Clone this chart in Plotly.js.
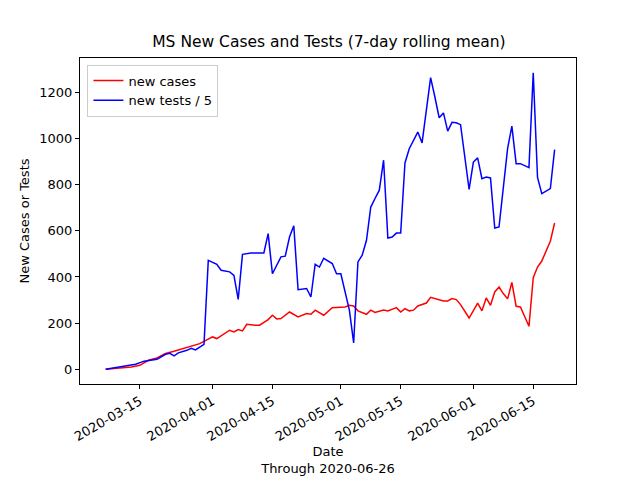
<!DOCTYPE html>
<html>
<head>
<meta charset="utf-8">
<script src="https://cdn.plot.ly/plotly-3.0.1.min.js"></script>
<style>body{margin:0}#chart{width:640px;height:480px}</style>
</head>
<body>
<div id="chart"></div>
<script>
// day offsets are counted from START_DATE
const START_DATE = '2020-03-07';

const casesDays = [0,6,8,10,12,14,16,18,20,22,23,25,26,28,29,30,31,32,33,35,36,38,39,40,41,43,45,47,48,49,51,53,56,57,58,59,61,62,63,65,66,68,69,70,71,72,73,75,76,79,80,81,82,83,85,87,88,89,90,91,92,93,94,95,96,97,99,100,101,102,103,104,105];
const casesValues = [0,10,17,39,49,68,78,90,100,111,121,140,133,157,169,162,172,166,195,191,191,215,234,218,220,248,227,241,238,256,234,267,270,277,274,253,238,256,246,257,253,267,248,263,253,256,274,287,312,296,296,306,302,280,222,287,253,309,277,335,356,328,305,376,273,270,186,397,443,469,513,555,634];

const testsDays = [0,4,7,9,12,14,15,16,17,19,20,21,23,24,26,27,29,30,31,32,34,37,38,39,41,42,43,44,45,47,48,49,50,51,53,54,55,57,58,59,60,61,62,63,64,65,66,67,68,69,70,71,72,73,74,75,76,77,78,79,80,81,82,83,84,85,86,87,88,89,90,91,92,93,94,95,96,97,98,99,100,101,102,103,104,105];
const testsValues = [0,13,22,35,43,65,69,58,71,82,91,84,108,472,455,429,422,407,303,498,504,504,588,414,487,490,573,622,345,350,313,455,443,481,458,414,414,256,114,465,494,559,703,740,776,906,569,573,590,590,894,956,992,1028,981,1136,1264,1180,1090,1111,1032,1070,1068,1060,919,780,898,916,826,833,829,612,617,797,956,1054,891,891,884,874,1285,831,761,771,783,952];

const tickDates = ['2020-03-15','2020-04-01','2020-04-15','2020-05-01','2020-05-15','2020-06-01','2020-06-15'];

const toDate = (offset) => {
  const d = new Date(START_DATE + 'T00:00:00Z');
  d.setUTCDate(d.getUTCDate() + offset);
  return d.toISOString().slice(0, 10);
};

const font = { family: 'DejaVu Sans', size: 13, color: '#000' };

const data = [
  { type: 'scatter', mode: 'lines', name: 'new cases', x: casesDays.map(toDate), y: casesValues, line: { color: '#ff0000', width: 1.5 } },
  { type: 'scatter', mode: 'lines', name: 'new tests / 5', x: testsDays.map(toDate), y: testsValues, line: { color: '#0000ff', width: 1.5 } }
];

const layout = {
  width: 640,
  height: 480,
  font,
  paper_bgcolor: '#fff',
  plot_bgcolor: '#fff',
  margin: { l: 80, r: 64, t: 58, b: 96 },
  title: { text: 'MS New Cases and Tests (7-day rolling mean)', font: { family: 'DejaVu Sans', size: 15.5 }, x: 0.514, y: 0.925, xanchor: 'center' },
  xaxis: {
    type: 'date',
    range: [toDate(-5.25), toDate(110.25)],
    tickvals: tickDates,
    ticktext: tickDates,
    tickangle: -30,
    ticks: 'outside', ticklen: 4, tickcolor: '#000',
    showline: true, linecolor: '#000', mirror: true,
    showgrid: false, zeroline: false,
    title: { text: 'Date<br>Through 2020-06-26', font, standoff: 2 }
  },
  yaxis: {
    range: [-64, 1349],
    tickvals: [0, 200, 400, 600, 800, 1000, 1200],
    ticks: 'outside', ticklen: 4, tickcolor: '#000',
    showline: true, linecolor: '#000', mirror: true,
    showgrid: false, zeroline: false,
    title: { text: 'New Cases or Tests', font, standoff: 6 }
  },
  legend: { x: 0.015, y: 0.98, xanchor: 'left', yanchor: 'top', bordercolor: '#ccc', borderwidth: 1, font: { family: 'DejaVu Sans', size: 13 } },
  showlegend: true
};

Plotly.newPlot('chart', data, layout, { displayModeBar: false, staticPlot: true });
</script>
</body>
</html>
